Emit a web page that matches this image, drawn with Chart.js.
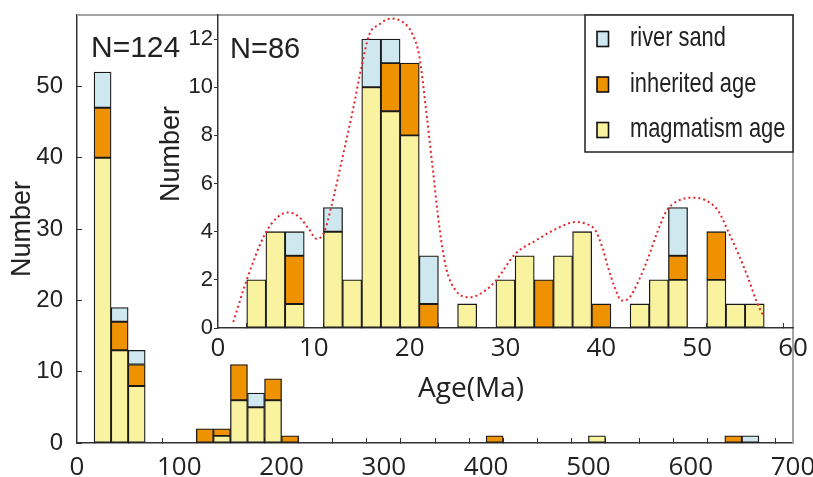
<!DOCTYPE html>
<html lang="en">
<head>
    <meta charset="UTF-8">
    <script src="https://cdn.jsdelivr.net/npm/chart.js"></script>
    <title>Age histogram</title>
    <style>
        body { margin: 0; background: #fff; }
        #wrap { position: relative; width: 813px; height: 477px; }
        #mainChart { position: absolute; left: 0; top: 0; }
        #insetChart { position: absolute; left: 130px; top: 0; }
    </style>
</head>
<body>
    <div id="wrap">
        <canvas id="mainChart" width="813" height="477"></canvas>
        <canvas id="insetChart" width="683" height="420"></canvas>
    </div>
    <script>
        // main histogram, 0-700 Ma (bin centres)
        const mainBins = [25, 41.67, 58.33, 125, 141.67, 158.33, 175, 191.67, 208.33, 408.33, 508.33, 641.67, 658.33];
        const mainMagmatism = [40, 13, 8, null, 1, 6, 5, 6, null, null, 1, null, null];
        const mainInherited = [7, 4, 3, 2, 1, 5, null, 3, 1, 1, null, 1, null];
        const mainRiverSand = [5, 2, 2, null, null, null, 2, null, null, null, null, null, 1];

        // inset histogram, 0-60 Ma (bin centres)
        const insetBins = [4, 6, 8, 12, 14, 16, 18, 20, 22, 26, 30, 32, 34, 36, 38, 40, 44, 46, 48, 52, 54, 56];
        const insetMagmatism = [2, 4, 1, 4, 2, 10, 9, 8, null, 1, 2, 3, null, 3, 4, null, 1, 2, 2, 2, 1, 1];
        const insetInherited = [null, null, 2, null, null, null, 2, 3, 1, null, null, null, 2, null, null, 1, null, null, 1, 2, null, null];
        const insetRiverSand = [null, null, 1, 1, null, 2, 1, null, 2, null, null, null, null, null, null, null, null, null, 2, null, null, null];
        const insetYTicks = [0, 2, 4, 6, 8, 10, 12];

        // probability curve
        const curveAge = [1.6, 3.0, 4.9, 6.2, 7.3, 8.5, 9.5, 10.3, 11.1, 11.8, 13.0, 14.1, 15.0, 15.8, 16.8, 18.0, 19.3, 20.3, 21.0, 21.7, 22.4, 23.1, 23.8, 24.8, 26.3, 27.9, 29.0, 31.0, 33.1, 35.2, 37.3, 38.3, 39.4, 40.1, 40.7, 41.4, 42.1, 42.8, 43.9, 44.9, 45.9, 46.8, 48.0, 49.4, 50.8, 52.2, 53.2, 54.3, 55.3, 56.2, 56.9];
        const curveValue = [0.25, 2.0, 3.9, 4.6, 4.8, 4.6, 4.1, 3.7, 4.0, 5.0, 7.1, 9.1, 10.9, 12.2, 12.6, 12.85, 12.7, 12.2, 11.3, 9.1, 6.65, 4.2, 2.5, 1.56, 1.28, 1.56, 1.97, 3.07, 3.62, 4.1, 4.4, 4.34, 4.04, 3.35, 2.52, 1.69, 1.14, 1.21, 1.97, 2.93, 4.04, 4.86, 5.28, 5.41, 5.32, 4.86, 4.04, 3.07, 2.1, 1.1, 0.5];

        const seriesNames = ['river sand', 'inherited age', 'magmatism age'];
        const colRiver = '#cfe8ef';
        const colInherited = '#ef9200';
        const colMagmatism = '#f9f29e';
        const ink = '#222';

        function barSet(label, bins, values, color) {
            return {
                type: 'bar',
                label: label,
                data: bins.map((x, i) => ({x: x, y: values[i]})),
                backgroundColor: color,
                borderColor: '#1a1a1a',
                borderWidth: 1.3,
                borderSkipped: false,
                barPercentage: 1,
                categoryPercentage: 1
            };
        }

        // fixed axis box, no extra room for overhanging labels
        function fixSize(prop, size) {
            return s => {
                s[prop] = size;
                s.paddingTop = s.paddingBottom = s.paddingLeft = s.paddingRight = 0;
            };
        }

        const frame = {
            id: 'frame',
            beforeDatasetsDraw(chart) {
                const {ctx, chartArea: a} = chart;
                ctx.save();
                ctx.strokeStyle = '#a3a3a3';
                ctx.lineWidth = 2;
                ctx.beginPath();
                ctx.moveTo(a.left, a.top);
                ctx.lineTo(a.right, a.top);
                ctx.lineTo(a.right, a.bottom);
                ctx.stroke();
                ctx.restore();
            },
            afterDraw(chart) {
                const ctx = chart.ctx;
                ctx.save();
                ctx.fillStyle = ink;
                ctx.font = '30px "Liberation Sans", Arial, sans-serif';
                ctx.fillText('N=124', 91, 57);
                ctx.restore();
            }
        };

        new Chart(document.getElementById('mainChart'), {
            type: 'bar',
            data: {
                datasets: [
                    barSet('magmatism age', mainBins, mainMagmatism, colMagmatism),
                    barSet('inherited age', mainBins, mainInherited, colInherited),
                    barSet('river sand', mainBins, mainRiverSand, colRiver)
                ]
            },
            options: {
                responsive: false,
                animation: false,
                layout: {autoPadding: false, padding: {top: 15, right: 20, left: 0, bottom: 0}},
                plugins: {legend: {display: false}, tooltip: {enabled: false}},
                scales: {
                    x: {
                        type: 'linear', min: 0, max: 700, stacked: true, offset: false, z: 1,
                        border: {color: '#333', width: 1.5},
                        grid: {drawOnChartArea: false, tickLength: -5, tickColor: '#333'},
                        ticks: {
                            stepSize: 100 / 3, autoSkip: false, maxRotation: 0, padding: 14,
                            color: ink, font: {family: '"Open Sans"', size: 26},
                            callback: v => {
                                const r = Math.round(v);
                                return Math.abs(v - r) < 1e-6 && r % 100 === 0 ? r : '';
                            }
                        },
                        afterFit: fixSize('height', 34)
                    },
                    y: {
                        min: 0, max: 60, stacked: true, z: 1,
                        border: {color: '#333', width: 1.5},
                        grid: {drawOnChartArea: false, tickLength: -5, tickColor: '#333'},
                        ticks: {
                            stepSize: 10, autoSkip: false, padding: 19, color: ink,
                            font: {family: '"Liberation Sans"', size: 24},
                            callback: v => v < 60 ? v : ''
                        },
                        title: {
                            display: true, text: 'Number', color: ink,
                            font: {family: '"Liberation Sans"', size: 27}, padding: {top: 6}
                        },
                        afterFit: fixSize('width', 77)
                    }
                }
            },
            plugins: [frame]
        });

        const insetText = {
            id: 'insetText',
            afterDraw(chart) {
                const ctx = chart.ctx;
                ctx.save();
                ctx.fillStyle = ink;
                ctx.font = '29px "Liberation Sans", Arial, sans-serif';
                ctx.textAlign = 'left';
                ctx.fillText('N=86', 100, 58);

                ctx.font = '28px "Open Sans", sans-serif';
                ctx.textAlign = 'center';
                ctx.fillText('Age(Ma)', 341, 397);

                ctx.translate(42, 154);
                ctx.rotate(-Math.PI / 2);
                ctx.font = '27px "Liberation Sans", Arial, sans-serif';
                ctx.textBaseline = 'middle';
                ctx.fillText('Number', 0, 0);
                ctx.restore();

                // legend box
                const a = chart.chartArea;
                const boxL = 455, boxT = a.top, boxR = a.right, boxB = 152;
                ctx.save();
                ctx.fillStyle = '#fff';
                ctx.fillRect(boxL, boxT, boxR - boxL, boxB - boxT);
                ctx.strokeStyle = '#222';
                ctx.lineWidth = 1.5;
                ctx.strokeRect(boxL, boxT, boxR - boxL, boxB - boxT);
                const cols = [colRiver, colInherited, colMagmatism];
                ctx.textBaseline = 'alphabetic';
                ctx.textAlign = 'left';
                seriesNames.forEach((name, i) => {
                    const cy = 39 + i * 45.5;
                    ctx.fillStyle = cols[i];
                    ctx.fillRect(467, cy - 7.5, 11.5, 15);
                    ctx.strokeStyle = '#111';
                    ctx.lineWidth = 1.6;
                    ctx.strokeRect(467, cy - 7.5, 11.5, 15);
                    // narrow lettering, as in the original figure
                    ctx.save();
                    ctx.translate(500, cy + 7);
                    ctx.scale(0.78, 1);
                    ctx.fillStyle = ink;
                    ctx.font = '28px "Liberation Sans", Arial, sans-serif';
                    ctx.fillText(name, 0, 0);
                    ctx.restore();
                });
                ctx.restore();
            }
        };

        new Chart(document.getElementById('insetChart'), {
            type: 'bar',
            data: {
                datasets: [
                    {
                        type: 'line',
                        label: 'curve',
                        stack: 'curve',
                        data: curveAge.map((x, i) => ({x: x, y: curveValue[i]})),
                        borderColor: '#e3262a',
                        borderWidth: 2,
                        borderDash: [2, 3],
                        pointRadius: 0,
                        fill: false,
                        cubicInterpolationMode: 'monotone'
                    },
                    barSet('magmatism age', insetBins, insetMagmatism, colMagmatism),
                    barSet('inherited age', insetBins, insetInherited, colInherited),
                    barSet('river sand', insetBins, insetRiverSand, colRiver)
                ]
            },
            options: {
                responsive: false,
                animation: false,
                layout: {autoPadding: false, padding: {top: 15, right: 20, left: 0, bottom: 0}},
                plugins: {legend: {display: false}, tooltip: {enabled: false}},
                scales: {
                    x: {
                        type: 'linear', min: 0, max: 60, stacked: true, offset: false, z: 1,
                        border: {color: '#333', width: 1.5},
                        grid: {
                            drawOnChartArea: false, tickLength: -5,
                            tickColor: c => (c.tick && c.tick.value % 4 === 0) ? '#333' : 'rgba(0,0,0,0)'
                        },
                        ticks: {
                            stepSize: 2, autoSkip: false, maxRotation: 0, padding: 10,
                            color: ink, font: {family: '"Open Sans"', size: 26},
                            callback: v => v % 10 === 0 ? v : ''
                        },
                        afterFit: fixSize('height', 92)
                    },
                    y: {
                        min: 0, max: 13, stacked: true, z: 1,
                        border: {color: '#333', width: 1.5},
                        grid: {drawOnChartArea: false, tickLength: 4, tickColor: '#333'},
                        ticks: {
                            autoSkip: false, padding: 1, color: ink,
                            font: {family: '"Liberation Sans"', size: 22}
                        },
                        afterBuildTicks: s => { s.ticks = insetYTicks.map(v => ({value: v})); },
                        afterFit: fixSize('width', 88)
                    }
                }
            },
            plugins: [insetText]
        });
    </script>
</body>
</html>
